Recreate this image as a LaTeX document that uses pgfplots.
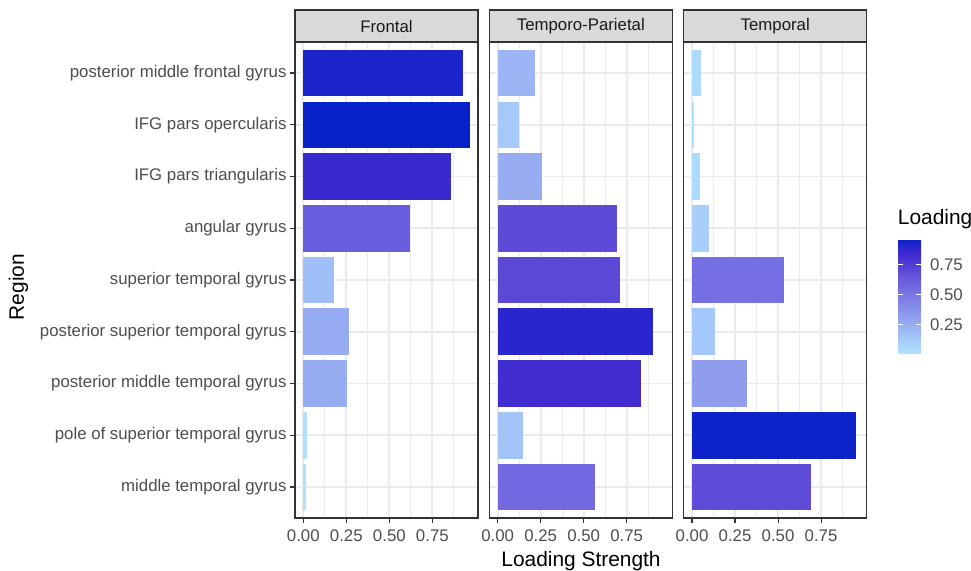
\documentclass[border=0pt]{standalone}
\usepackage{pgfplots}
\pgfplotsset{compat=1.18}
\usepackage{fontspec}
\setmainfont{Liberation Sans}
\definecolor{g20}{HTML}{333333}
\definecolor{g30}{HTML}{4D4D4D}
\definecolor{g85}{HTML}{D9D9D9}
\definecolor{g92}{HTML}{EBEBEB}
\definecolor{g10}{HTML}{1A1A1A}
\pgfplotsset{
  colormap={load}{rgb255(10)=(176,226,255) rgb255(130)=(165,200,250) rgb255(250)=(152,174,242) rgb255(320)=(142,158,236) rgb255(550)=(116,108,226) rgb255(620)=(106,94,222) rgb255(700)=(92,74,216) rgb255(830)=(66,44,208) rgb255(900)=(42,38,206) rgb255(967)=(8,34,202)},
  facet/.style={
    scale only axis, width=183pt, height=476pt, anchor=south west,
    xmin=-0.0484, xmax=1.0154, ymin=0.4, ymax=9.6,
    xtick={0,0.25,0.5,0.75}, xticklabels={0.00,0.25,0.50,0.75},
    minor xtick={0.125,0.375,0.625,0.875},
    ytick={1,2,3,4,5,6,7,8,9},
    xmajorgrids, ymajorgrids, xminorgrids,
    major grid style={g92, line width=1.8pt},
    minor grid style={g92, line width=0.9pt},
    axis line style={g20, line width=1.1pt},
    tick style={g20, line width=1.1pt},
    tick align=outside, major tick length=5pt, minor tick length=0pt,
    xtick pos=bottom, ytick pos=left,
    ticklabel style={font=\fontsize{16.8}{18}\selectfont, text=g30},
    xticklabel shift=3pt,
    point meta min=0.01, point meta max=0.967,
    colormap name=load,
  },
}
% one bar: value, category position; its fill is looked up in the colormap
\newcommand{\B}[2]{%
  \pgfmathsetmacro{\cm}{(#1-0.01)/0.957*1000}%
  \edef\tmp{\noexpand\addplot[xbar, bar width=0.9, draw=none, color of colormap={\cm}, fill] coordinates {(#1,#2)};}%
  \tmp}
\newcommand{\strip}[2]{%
  \draw[g20, line width=1.1pt, fill=g85] (#1.north west) rectangle ([yshift=32pt]#1.north east);
  \node[font=\fontsize{16.8}{18}\selectfont, text=g10] at ([yshift=16pt]#1.north) {#2};}
\begin{document}
\begin{tikzpicture}
\path[use as bounding box] (0,0) rectangle (971pt,570pt);
\begin{axis}[facet, name=F, at={(295pt,52pt)},
  yticklabels={middle temporal gyrus, pole of superior temporal gyrus, posterior middle temporal gyrus, posterior superior temporal gyrus, superior temporal gyrus, angular gyrus, IFG pars triangularis, IFG pars opercularis, posterior middle frontal gyrus}]
\B{0.015}{1}\B{0.023}{2}\B{0.256}{3}\B{0.264}{4}\B{0.177}{5}\B{0.618}{6}\B{0.857}{7}\B{0.967}{8}\B{0.927}{9}
\end{axis}
\strip{F}{Frontal}
\begin{axis}[facet, name=TP, at={(489.3pt,52pt)}, yticklabels={}, ytick style={draw=none}]
\B{0.565}{1}\B{0.148}{2}\B{0.833}{3}\B{0.902}{4}\B{0.710}{5}\B{0.696}{6}\B{0.258}{7}\B{0.125}{8}\B{0.217}{9}
\end{axis}
\strip{TP}{Temporo-Parietal}
\begin{axis}[facet, name=T, at={(683.7pt,52pt)}, yticklabels={}, ytick style={draw=none}]
\B{0.690}{1}\B{0.954}{2}\B{0.319}{3}\B{0.131}{4}\B{0.535}{5}\B{0.096}{6}\B{0.044}{7}\B{0.010}{8}\B{0.050}{9}
\end{axis}
\strip{T}{Temporal}
\begin{scope}[shift={(889.5pt,331pt)}]
\pgfplotscolorbardrawstandalone[colormap name=load, point meta min=0.01, point meta max=0.967,
  colorbar/width=23pt,
  colorbar style={
    at={(0pt,0pt)}, anchor=north west, scale only axis,
    width=23pt, height=114pt,
    ytick={0.25,0.5,0.75}, yticklabels={0.25,0.50,0.75},
    ytick pos=both, yticklabel pos=right,
    tick align=inside, major tick length=4.6pt,
    ytick style={white, line width=1pt}, axis line style={draw=none},
    yticklabel style={font=\fontsize{16.8}{18}\selectfont, text=g30, xshift=5.5pt},
  }]
\end{scope}
\node[anchor=base west, font=\fontsize{20.9}{24}\selectfont, inner sep=0pt] at (897.7pt,345pt) {Loading};
\node[anchor=base, font=\fontsize{20.9}{24}\selectfont, inner sep=0pt] at (581pt,4pt) {Loading Strength};
\node[anchor=base, rotate=90, font=\fontsize{20.9}{24}\selectfont, inner sep=0pt] at (24pt,283pt) {Region};
\end{tikzpicture}
\end{document}
